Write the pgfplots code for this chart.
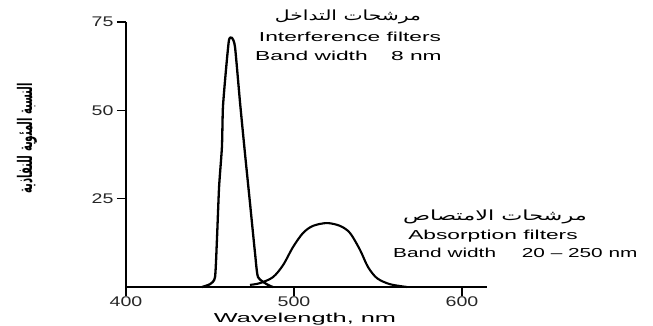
\documentclass[border=0pt]{standalone}
\usepackage{fontspec}
\usepackage{pgfplots}
\pgfplotsset{compat=1.18}
\setmainfont{Liberation Sans}
\TeXXeTstate=1
\newfontfamily\wfont[FakeStretch=1.75]{Liberation Sans}
\newfontfamily\bfont[FakeStretch=1.6]{Liberation Sans}
\newfontfamily\xlfont[FakeStretch=1.95]{Liberation Sans}
\newfontfamily\tfont[FakeStretch=1.4]{Liberation Sans}
\newfontfamily\arabicfont[Script=Arabic,FakeStretch=1.45]{DejaVu Sans}
\newfontfamily\arabicfontb[Script=Arabic,FakeStretch=1.6]{DejaVu Sans}
\newfontfamily\arabicylab[Script=Arabic,FakeStretch=0.5]{DejaVu Sans}

\pgfplotstableread{
x y
445.2 0
450.0 0.8
453.0 2.8
454.2 14.2
455.4 28.3
457.1 39.6
457.7 50.9
459.5 61.4
461.3 69.9
463.1 70.5
464.9 67.9
467.9 52.1
470.8 37.9
473.8 23.8
476.8 9.6
478.6 2.8
484.5 0.6
487.5 0
}\interf

\pgfplotstableread{
x y
473.8 0.6
479.8 1.1
487.5 2.8
493.5 6.2
499.4 11.3
505.4 15.3
511.3 17.3
519.6 18.1
527.4 17.3
533.3 15.3
539.3 10.5
544.0 5.7
549.4 2.5
557.1 0.8
567.3 0
}\absorb

\begin{document}
\begin{tikzpicture}
\path[use as bounding box] (-126pt,-38pt) rectangle (527pt,287pt);
\begin{axis}[
  at={(0pt,0pt)}, anchor=south west,
  scale only axis,
  width=361.2pt, height=265pt,
  xmin=400, xmax=615, ymin=0, ymax=75,
  axis lines=left,
  axis line style={-, line width=1.9pt},
  xtick={400,500,600}, ytick={25,50,75},
  tick align=outside,
  major tick length=9pt,
  tick style={line width=1.6pt, black},
  /pgf/number format/assume math mode=true,
  tick label style={font=\tfont\fontsize{14}{16}\selectfont, text=black!85},
  xticklabel style={inner sep=1pt},
  clip=false,
]
\addplot[black, line width=2.3pt, smooth, tension=0.35] table[x=x,y=y] {\interf};
\addplot[black, line width=2.1pt, smooth, tension=0.5] table[x=x,y=y] {\absorb};
\end{axis}
\node[anchor=base, font=\xlfont\fontsize{13}{15}\selectfont, inner sep=1pt] at (179pt,-35pt) {Wavelength, nm};
\node[anchor=base, font=\arabicfont\fontsize{14}{16}\selectfont] at (222pt,267pt) {\beginR مرشحات التداخل\endR};
\node[anchor=base, font=\wfont\fontsize{13}{15}\selectfont] at (224pt,246pt) {Interference filters};
\node[anchor=base west, font=\wfont\fontsize{13}{15}\selectfont, inner sep=0pt] at (129pt,227pt) {Band width\hspace{17pt} 8 nm};
\node[anchor=base, font=\arabicfontb\fontsize{14}{16}\selectfont] at (369pt,67pt) {\beginR مرشحات الامتصاص\endR};
\node[anchor=base, font=\wfont\fontsize{13}{15}\selectfont] at (367pt,48pt) {Absorption filters};
\node[anchor=base west, font=\bfont\fontsize{13}{15}\selectfont, inner sep=0pt] at (267pt,30pt) {Band width\hspace{20pt} 20 – 250 nm};
\node[rotate=90, font=\arabicylab\bfseries\fontsize{20}{22}\selectfont] at (-99pt,149pt) {\beginR النسبة المئوية للنفاذية\endR};
\end{tikzpicture}
\end{document}
